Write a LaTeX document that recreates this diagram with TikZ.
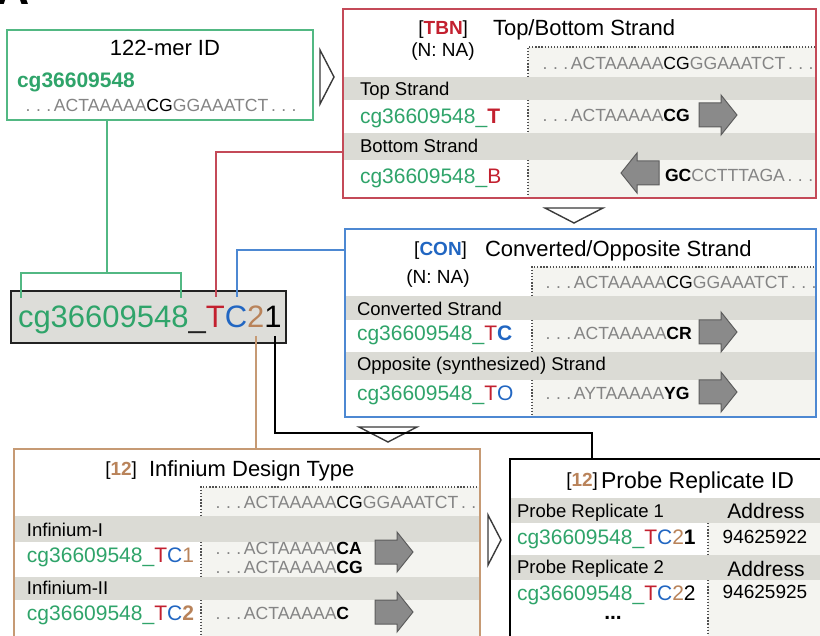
\documentclass[tikz,border=0pt]{standalone}
\usepackage{fontspec}
\setmainfont{Liberation Sans}
\usetikzlibrary{calc}

\definecolor{grnline}{HTML}{52B883}
\definecolor{idgreen}{HTML}{2FA46A}
\definecolor{tbnred}{HTML}{C3202F}
\definecolor{redline}{HTML}{C44A58}
\definecolor{conblue}{HTML}{2166C2}
\definecolor{blueline}{HTML}{4D88D2}
\definecolor{idtan}{HTML}{B9835A}
\definecolor{tanline}{HTML}{C69A74}
\definecolor{bandgray}{HTML}{DBDBD5}
\definecolor{paleback}{HTML}{F4F4F0}
\definecolor{boxgray}{HTML}{DDDDD9}
\definecolor{seqgray}{HTML}{848484}
\definecolor{arrfill}{HTML}{8A8A8A}
\definecolor{arrdraw}{HTML}{5C5C5C}
\definecolor{dotgray}{HTML}{505050}
\definecolor{tridark}{HTML}{3A3A3A}
\definecolor{darktext}{HTML}{222222}

\newcommand\fs[1]{\fontsize{#1}{#1}\selectfont}
% widely spaced ellipsis used in the sequences
\newcommand\dts{\makebox[10.3pt][c]{.}\makebox[10.3pt][c]{.}\makebox[10.3pt][c]{.}}
\newcommand\kk[1]{\textcolor{black}{#1}}
\newcommand\kb[1]{\textcolor{black}{\bfseries #1}}
\newcommand\rd[1]{\textcolor{tbnred}{#1}}
\newcommand\bl[1]{\textcolor{conblue}{#1}}
\newcommand\tn[1]{\textcolor{idtan}{#1}}
\newcommand\cgid{cg36609548\_}

\tikzset{
  every node/.style={inner sep=0pt, outer sep=0pt},
  txt/.style={font=\fs{#1}, text height=0.716*#1pt, text depth=0pt},
  ttl/.style={txt=22, text=black},
  tagl/.style={txt=19, text=black},
  bandl/.style={txt=18.5, anchor=west, text=black},
  idl/.style={txt=21, anchor=west, text=idgreen},
  seq/.style={txt=17.6, anchor=west, text=seqgray},
  frame/.style={line width=1.6pt, fill=none, anchor=north west},
  dotline/.style={draw=dotgray, line width=1.3pt, dash pattern=on 1.3pt off 1.8pt},
  tri/.style={draw=tridark, fill=white, line width=1.4pt, line join=miter},
  link/.style={line width=2pt},
  fatR/.pic={\filldraw[fill=arrfill, draw=arrdraw, line width=1pt, line join=miter]
    (-19,-12) -- (3,-12) -- (3,-20) -- (19,0) -- (3,20) -- (3,12) -- (-19,12) -- cycle;}
}

\begin{document}
\begin{tikzpicture}[x=1pt,y=-1pt]
\useasboundingbox (0,0) rectangle (820,636);
\clip (0,0) rectangle (820,636);

% panel letter
\node[anchor=base west, font=\bfseries\fs{46}] (plabel) at (-3,5) {A};

% ---------- 122-mer ID ----------
\node[frame, draw=grnline, fill=white, minimum width=306pt, minimum height=90pt] (mer) at (7,30) {};
\node[ttl] (merT) at (165,48) {122-mer ID};
\node[txt=21, anchor=west, text=idgreen, font=\bfseries\fs{21}] (merId) at (17,80) {cg36609548};
\node[seq] (merSeq) at (23,105) {\dts ACTAAAAA\kk{CG}GGAAATCT\dts};
\draw[tri] (320,50) -- (334,77) -- (320,104) -- cycle;

% ---------- Top/Bottom strand ----------
\fill[white] (343,9) rectangle (816,198);
\fill[paleback] (528,47) rectangle (816,198);
\fill[bandgray] (343,77) rectangle (816,100);
\fill[bandgray] (343,133) rectangle (816,160);
\draw[dotline] (528,77) -- (528,47) -- (816,47);
\draw[dotline] (528,100) -- (528,133);
\draw[dotline] (528,160) -- (528,198);
\node[frame, draw=redline, minimum width=473pt, minimum height=189pt] (tbn) at (343,9) {};
\node[tagl, anchor=east] (tbnTag) at (468,28) {[\textcolor{tbnred}{\bfseries TBN}]};
\node[ttl, anchor=west] (tbnT) at (493,28) {Top/Bottom Strand};
\node[tagl] (tbnNA) at (443,50) {(N: NA)};
\node[seq] (tbnSeq) at (540,63) {\dts ACTAAAAA\kk{CG}GGAAATCT\dts};
\node[bandl] (topL) at (360,89) {Top Strand};
\node[idl] (topId) at (360,116) {\cgid\rd{\bfseries T}};
\node[seq] (topSeq) at (540,115) {\dts ACTAAAAA\kb{CG}};
\pic at (718,115) {fatR};
\node[bandl] (botL) at (360,146) {Bottom Strand};
\node[idl] (botId) at (360,176) {\cgid\rd{B}};
\pic[xscale=-1] at (640,173) {fatR};
\node[seq] (botSeq) at (665,175) {\kb{GC}CCTTTAGA\dts};

\draw[tri] (545,208) -- (603,208) -- (574,223) -- cycle;

% ---------- Converted/Opposite strand ----------
\fill[white] (345,229) rectangle (816,417);
\fill[paleback] (532,267) rectangle (816,417);
\fill[bandgray] (345,296) rectangle (816,320);
\fill[bandgray] (345,352) rectangle (816,380);
\draw[dotline] (532,296) -- (532,267) -- (816,267);
\draw[dotline] (532,320) -- (532,352);
\draw[dotline] (532,380) -- (532,417);
\node[frame, draw=blueline, minimum width=471pt, minimum height=188pt] (con) at (345,229) {};
\node[tagl, anchor=east] (conTag) at (467,249) {[\textcolor{conblue}{\bfseries CON}]};
\node[ttl, anchor=west] (conT) at (485,249) {Converted/Opposite Strand};
\node[tagl] (conNA) at (438,277) {(N: NA)};
\node[seq] (conSeq) at (543,282) {\dts ACTAAAAA\kk{CG}GGAAATCT\dts};
\node[bandl] (cvL) at (357,309) {Converted Strand};
\node[idl] (cvId) at (357,333) {\cgid\rd{T}\bl{\bfseries C}};
\node[seq] (cvSeq) at (543,333) {\dts ACTAAAAA\kb{CR}};
\pic at (718,332) {fatR};
\node[bandl] (opL) at (357,364) {Opposite (synthesized) Strand};
\node[idl] (opId) at (357,393) {\cgid\rd{T}\bl{O}};
\node[seq] (opSeq) at (543,393) {\dts AYTAAAAA\kb{YG}};
\pic at (718,392) {fatR};

\draw[tri] (359,427) -- (417,427) -- (388,442) -- cycle;

% ---------- Infinium design type ----------
\begin{scope}
\clip (14,449) rectangle (480,650);
\fill[white] (14,449) rectangle (480,650);
\fill[paleback] (201,487) rectangle (480,650);
\fill[bandgray] (14,516) rectangle (480,542);
\fill[bandgray] (14,577) rectangle (480,600);
\draw[dotline] (201,516) -- (201,487) -- (480,487);
\draw[dotline] (201,542) -- (201,577);
\draw[dotline] (201,600) -- (201,650);
\node[seq] (infSeq) at (213,502) {\dts ACTAAAAA\kk{CG}GGAAATCT\dts};
\end{scope}
\node[frame, draw=tanline, minimum width=466pt, minimum height=200pt] (inf) at (14,449) {};
\node[tagl, anchor=east] (infTag) at (137,469) {[\tn{\bfseries 12}]};
\node[ttl, anchor=west] (infT) at (149,469) {Infinium Design Type};
\node[bandl] (i1L) at (27,530) {Infinium-I};
\node[idl] (i1Id) at (27,555) {\cgid\rd{T}\bl{C}\tn{1}};
\node[seq] (i1SeqA) at (213,548) {\dts ACTAAAAA\kb{CA}};
\node[seq] (i1SeqB) at (213,567) {\dts ACTAAAAA\kb{CG}};
\pic at (394,552) {fatR};
\node[bandl] (i2L) at (27,588) {Infinium-II};
\node[idl] (i2Id) at (27,613) {\cgid\rd{T}\bl{C}\tn{\bfseries 2}};
\node[seq] (i2Seq) at (213,613) {\dts ACTAAAAA\kb{C}};
\pic at (394,612) {fatR};

\draw[tri] (488,515) -- (501,540) -- (488,565) -- cycle;

% ---------- Probe replicate ID ----------
\fill[white] (510,459) rectangle (830,650);
\fill[paleback] (708,523) rectangle (830,650);
\fill[bandgray] (510,498) rectangle (830,523);
\fill[bandgray] (510,555) rectangle (830,580);
\draw[dotline] (708,523) -- (708,555);
\draw[dotline] (708,580) -- (708,650);
\node[frame, draw=black, minimum width=320pt, minimum height=191pt] (rep) at (510,459) {};
\node[tagl, anchor=east] (repTag) at (598,480) {[\tn{\bfseries 12}]};
\node[ttl, txt=23, anchor=west] (repT) at (601,480) {Probe Replicate ID};
\node[bandl] (r1L) at (517,511) {Probe Replicate 1};
\node[txt=21] (r1A) at (766,511) {Address};
\node[idl] (r1Id) at (517,537) {\cgid\rd{T}\bl{C}\tn{2}\kb{1}};
\node[txt=19] (r1N) at (765,537) {94625922};
\node[bandl] (r2L) at (517,567) {Probe Replicate 2};
\node[txt=21] (r2A) at (766,569) {Address};
\node[idl] (r2Id) at (517,593) {\cgid\rd{T}\bl{C}\tn{2}\kk{2}};
\node[txt=19] (r2N) at (765,592) {94625925};
\node[font=\bfseries\fs{21}] (more) at (613,618) {...};

% ---------- composite probe ID ----------
\node[draw=darktext, fill=boxgray, line width=2pt, minimum width=275pt, minimum height=52pt, anchor=north west] (pid) at (11,291) {};
\node[txt=31, anchor=west] (pidTxt) at (18,316)
  {\textcolor{idgreen}{cg36609548}\textcolor{darktext}{\_}\rd{T}\bl{C}\tn{2}\kk{1}};

% ---------- connectors ----------
\coordinate (gL) at (21,298);
\coordinate (gR) at (181,298);
\coordinate (gLu) at (21,273);
\coordinate (gRu) at (181,273);
\coordinate (gMid) at (107,273);
\draw[link, grnline] (gL) -- (gLu) -- (gRu) -- (gR);
\draw[link, grnline] (gMid) -- (gMid |- mer.south);

\coordinate (rFoot) at (216,297);
\coordinate (rElb) at (216,152);
\draw[link, redline] (rFoot) -- (rElb) -- (rElb -| tbn.west);

\coordinate (bFoot) at (237,297);
\coordinate (bElb) at (237,250);
\draw[link, blueline] (bFoot) -- (bElb) -- (bElb -| con.west);

\coordinate (tFoot) at (256,336);
\draw[link, tanline] (tFoot) -- (tFoot |- inf.north);

\coordinate (kFoot) at (275,336);
\coordinate (kElb) at (275,433);
\coordinate (kElb2) at (592,433);
\draw[link, black] (kFoot) -- (kElb) -- (kElb2) -- (kElb2 |- rep.north);
\end{tikzpicture}
\end{document}
